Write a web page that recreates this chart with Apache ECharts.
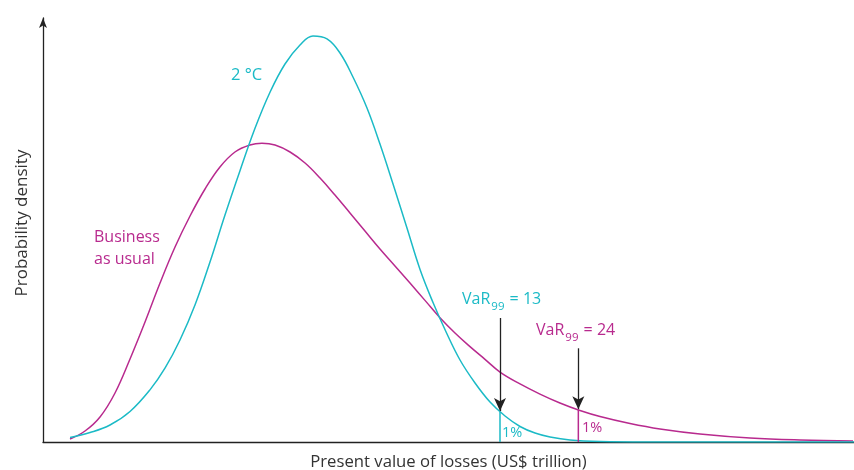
<!DOCTYPE html>
<html>
<head>
<meta charset="utf-8">
<script src="https://cdn.jsdelivr.net/npm/echarts@6/dist/echarts.min.js"></script>
<style>html,body{margin:0;padding:0;background:#fff}#c{width:854px;height:470px}</style>
</head>
<body>
<div id="c"></div>
<script>
// Losses on an abstract 0–100 scale (the original has no tick labels)
const twoDegX = [3.33,5.80,8.26,10.73,13.19,15.04,16.89,18.74,20.59,22.44,24.29,26.14,27.99,29.84,31.69,33.29,35.02,36.62,38.22,39.95,41.55,43.16,44.88,46.49,48.09,49.69,51.42,53.27,55.12,56.97,58.82,60.67,62.52,64.98,68.68,74.85,85,100];
const twoDegY = [1.06,2.24,4.01,7.2,12.3,17.4,24.06,32.31,42.45,53.54,64.0,74.0,82.5,89.15,93.63,95.75,95.05,91.75,86.08,78.77,70.28,60.85,50.47,40.7,32.9,26.0,19.34,13.92,9.43,6.13,3.66,2.12,1.18,0.47,0.12,0.02,0.01,0.0];
const bauX = [3.33,5.18,7.03,8.88,10.73,12.58,14.43,16.28,18.13,19.98,21.82,23.67,25.52,27.00,28.61,30.46,32.31,34.16,36.00,37.85,39.70,41.55,43.40,45.25,47.10,48.95,50.80,52.65,54.50,56.35,58.82,61.28,63.74,66.21,68.68,72.38,76.08,81.01,87.18,93.34,99.88];
const bauY = [0.71,2.59,5.90,11.56,19.58,28.30,37.50,45.99,53.30,59.67,64.86,68.40,70.05,70.45,70.05,68.40,65.80,62.26,58.25,54.01,49.76,45.52,41.51,37.50,33.4,29.3,25.7,22.5,19.5,16.5,13.7,11.3,9.20,7.43,6.01,4.36,3.07,1.89,0.94,0.47,0.24];
// VaR markers: position on the loss axis, density there, arrow start and end
const varTwoDeg = {x: 56.35, density: 7.1, arrowFrom: 29.25, arrowTo: 7.3, label: '13'};
const varBau = {x: 66.01, density: 7.55, arrowFrom: 22.1, arrowTo: 7.75, label: '24'};
const tailLabel = '1%';

const CYAN = '#1bbac6';
const MAG = '#b82a8e';
const INK = '#222';

function zip(xs, ys){ return xs.map((x,i)=>[x, ys[i]]); }

const chart = echarts.init(document.getElementById('c'));
const font = '"Open Sans", "Noto Sans", sans-serif';

function varRich(color, val){
  return {
    text: '{a|VaR}{b|99}{a| = ' + val + '}',
    rich: {
      a: {fontSize: 16, fontFamily: font, fill: color, color: color, lineHeight: 18, verticalAlign: 'top'},
      b: {fontSize: 11.5, fontFamily: font, fill: color, color: color, lineHeight: 12, verticalAlign: 'top', padding: [10,1,0,1]}
    }
  };
}

chart.setOption({
  animation: false,
  grid: {left: 43, right: 0, top: 18, bottom: 28, outerBoundsMode: 'none', containLabel: false},
  xAxis: {
    type: 'value', min: 0, max: 100,
    axisLine: {show: true, lineStyle: {color: INK, width: 1.3}},
    axisTick: {show: false}, axisLabel: {show: false}, splitLine: {show: false},
    name: 'Present value of losses (US$ trillion)',
    nameLocation: 'middle', nameGap: 12,
    nameTextStyle: {fontSize: 16.7, fontFamily: font, color: '#333', verticalAlign: 'top'}
  },
  yAxis: {
    type: 'value', min: 0, max: 100,
    axisLine: {show: true, symbol: ['none','arrow'], symbolSize: [6, 10], lineStyle: {color: INK, width: 1.3}},
    axisTick: {show: false}, axisLabel: {show: false}, splitLine: {show: false}
  },
  series: [
    {type: 'line', data: zip(bauX, bauY), smooth: 0.4, symbol: 'none', lineStyle: {color: MAG, width: 1.5}, z: 3},
    {type: 'line', data: zip(twoDegX, twoDegY), smooth: 0.4, symbol: 'none', lineStyle: {color: CYAN, width: 1.5}, z: 4},
    {type: 'line', data: [[varTwoDeg.x, 0],[varTwoDeg.x, varTwoDeg.density]], symbol: 'none', lineStyle: {color: CYAN, width: 1.5}, z: 4},
    {type: 'line', data: [[varBau.x, 0],[varBau.x, varBau.density]], symbol: 'none', lineStyle: {color: MAG, width: 1.5}, z: 4},
    {type: 'line', data: [], symbol: 'none', z: 5,
      markLine: {
        silent: true, symbol: ['none','arrow'], symbolSize: [9, 13],
        label: {show: false},
        lineStyle: {color: INK, width: 1.3, type: 'solid'},
        data: [
          [{coord: [varTwoDeg.x, varTwoDeg.arrowFrom]}, {coord: [varTwoDeg.x, varTwoDeg.arrowTo]}],
          [{coord: [varBau.x, varBau.arrowFrom]}, {coord: [varBau.x, varBau.arrowTo]}]
        ]
      }
    }
  ],
  graphic: [
    {type: 'text', left: 231, top: 67, style: {text: '2 °C', fontSize: 16.5, fontFamily: font, fill: CYAN}},
    {type: 'text', left: 94, top: 226, style: {text: 'Business\nas usual', fontSize: 16, lineHeight: 22, fontFamily: font, fill: MAG}},
    {type: 'text', left: 462, top: 291, style: varRich(CYAN, varTwoDeg.label)},
    {type: 'text', left: 536, top: 322, style: varRich(MAG, varBau.label)},
    {type: 'text', left: 502, top: 425, style: {text: tailLabel, fontSize: 14.5, fontFamily: font, fill: CYAN}},
    {type: 'text', left: 582, top: 420, style: {text: tailLabel, fontSize: 14.5, fontFamily: font, fill: MAG}},
    {type: 'text', x: 22, y: 223, rotation: Math.PI/2,
      style: {text: 'Probability density', fontSize: 17, fontFamily: font, fill: '#333', align: 'center', verticalAlign: 'middle'}}
  ]
});
</script>
</body>
</html>
